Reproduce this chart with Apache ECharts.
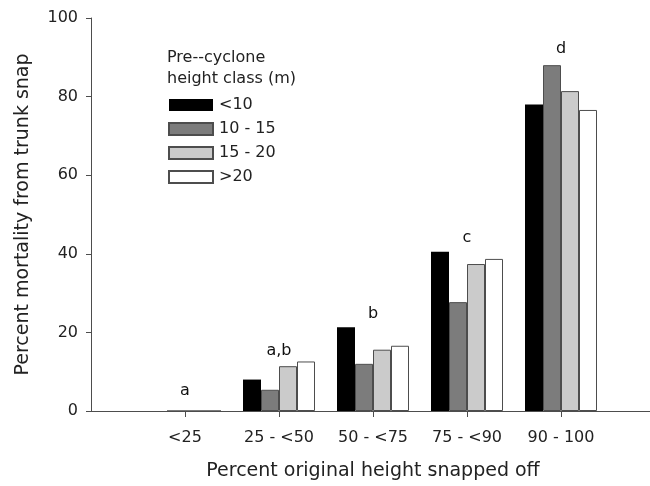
<!DOCTYPE html>
<html>
<head>
<meta charset="utf-8">
<script src="https://cdn.jsdelivr.net/npm/echarts@6/dist/echarts.min.js"></script>
<style>
html,body{margin:0;padding:0;background:#fff;}
#chart{width:650px;height:486px;}
</style>
</head>
<body>
<div id="chart"></div>
<script>
// ---- data ----
var categories = ['<25', '25 - <50', '50 - <75', '75 - <90', '90 - 100'];
var seriesNames = ['<10', '10 - 15', '15 - 20', '>20'];
var valsLt10   = [0, 8.0, 21.3, 40.5, 78.0];
var vals10to15 = [0, 5.4, 12.0, 27.7, 88.0];
var vals15to20 = [0, 11.4, 15.6, 37.4, 81.4];
var valsGt20   = [0, 12.6, 16.6, 38.7, 76.6];
var letterText = ['a', 'a,b', 'b', 'c', 'd'];
var letterY    = [5.2, 15.4, 24.8, 44.1, 92.2];
var yTicks = [0, 20, 40, 60, 80, 100];

var FONT = 'DejaVu Sans';
var TXT = '#222';
var LINE = '#4d4d4d';
var colors = ['#000000', '#7c7c7c', '#cbcbcb', '#ffffff'];

// pad with an empty slot at each end so categories sit on ticks at 1..5
var axisCats = [''].concat(categories).concat(['']);
function pad(a) { return [null].concat(a).concat([null]); }
var allVals = [valsLt10, vals10to15, vals15to20, valsGt20];

var barSeries = allVals.map(function (v, i) {
  return {
    name: seriesNames[i],
    type: 'bar',
    data: pad(v),
    barWidth: 18,
    barGap: '0%',
    itemStyle: { color: colors[i], borderColor: i === 0 ? '#000' : LINE, borderWidth: i === 0 ? 0 : 1 },
    emphasis: { disabled: true },
    animation: false
  };
});

var letterData = letterText.map(function (t, i) {
  return { name: t, value: [i + 1, letterY[i]] };
});

var option = {
  backgroundColor: '#fff',
  animation: false,
  title: {
    text: 'Pre--cyclone\nheight class (m)',
    left: 167, top: 47, padding: 0,
    textStyle: { fontFamily: FONT, fontSize: 16, fontWeight: 'normal', color: TXT, lineHeight: 21 }
  },
  legend: {
    data: seriesNames,
    orient: 'vertical',
    left: 168, top: 97, padding: 0,
    itemWidth: 44, itemHeight: 12, itemGap: 8,
    icon: 'rect',
    selectedMode: false,
    textStyle: { fontFamily: FONT, fontSize: 16, color: TXT, padding: [0, 0, 0, 1] }
  },
  grid: { left: 91, width: 564, top: 18, bottom: 75, containLabel: false, outerBoundsMode: 'none' },
  xAxis: {
    type: 'category',
    data: axisCats,
    boundaryGap: false,
    name: 'Percent original height snapped off',
    nameLocation: 'middle',
    nameGap: 51,
    nameTextStyle: { fontFamily: FONT, fontSize: 19, color: TXT },
    axisLine: { lineStyle: { color: LINE, width: 1 } },
    axisTick: { show: true, length: 6, lineStyle: { color: LINE },
      interval: function (idx) { return idx >= 1 && idx <= categories.length; } },
    axisLabel: { interval: 0, margin: 19, fontFamily: FONT, fontSize: 16, color: TXT },
    splitLine: { show: false }
  },
  yAxis: {
    type: 'value',
    min: yTicks[0], max: yTicks[yTicks.length - 1], interval: yTicks[1] - yTicks[0],
    name: 'Percent mortality from trunk snap',
    nameLocation: 'middle',
    nameGap: 58,
    nameTextStyle: { fontFamily: FONT, fontSize: 19, color: TXT },
    axisLine: { show: true, lineStyle: { color: LINE, width: 1 } },
    axisTick: { show: true, length: 5, lineStyle: { color: LINE } },
    axisLabel: { margin: 13, fontFamily: FONT, fontSize: 16, color: TXT },
    splitLine: { show: false }
  },
  series: barSeries.concat([{
    type: 'scatter',
    data: letterData,
    symbolSize: 0,
    silent: true,
    itemStyle: { opacity: 1 },
    label: { show: true, position: 'inside', opacity: 1, formatter: function (p) { return p.name; },
      fontFamily: FONT, fontSize: 16, color: '#111', textBorderWidth: 0 },
    z: 5
  }])
};

var chart = echarts.init(document.getElementById('chart'), null, { renderer: 'canvas' });
chart.setOption(option);
</script>
</body>
</html>
